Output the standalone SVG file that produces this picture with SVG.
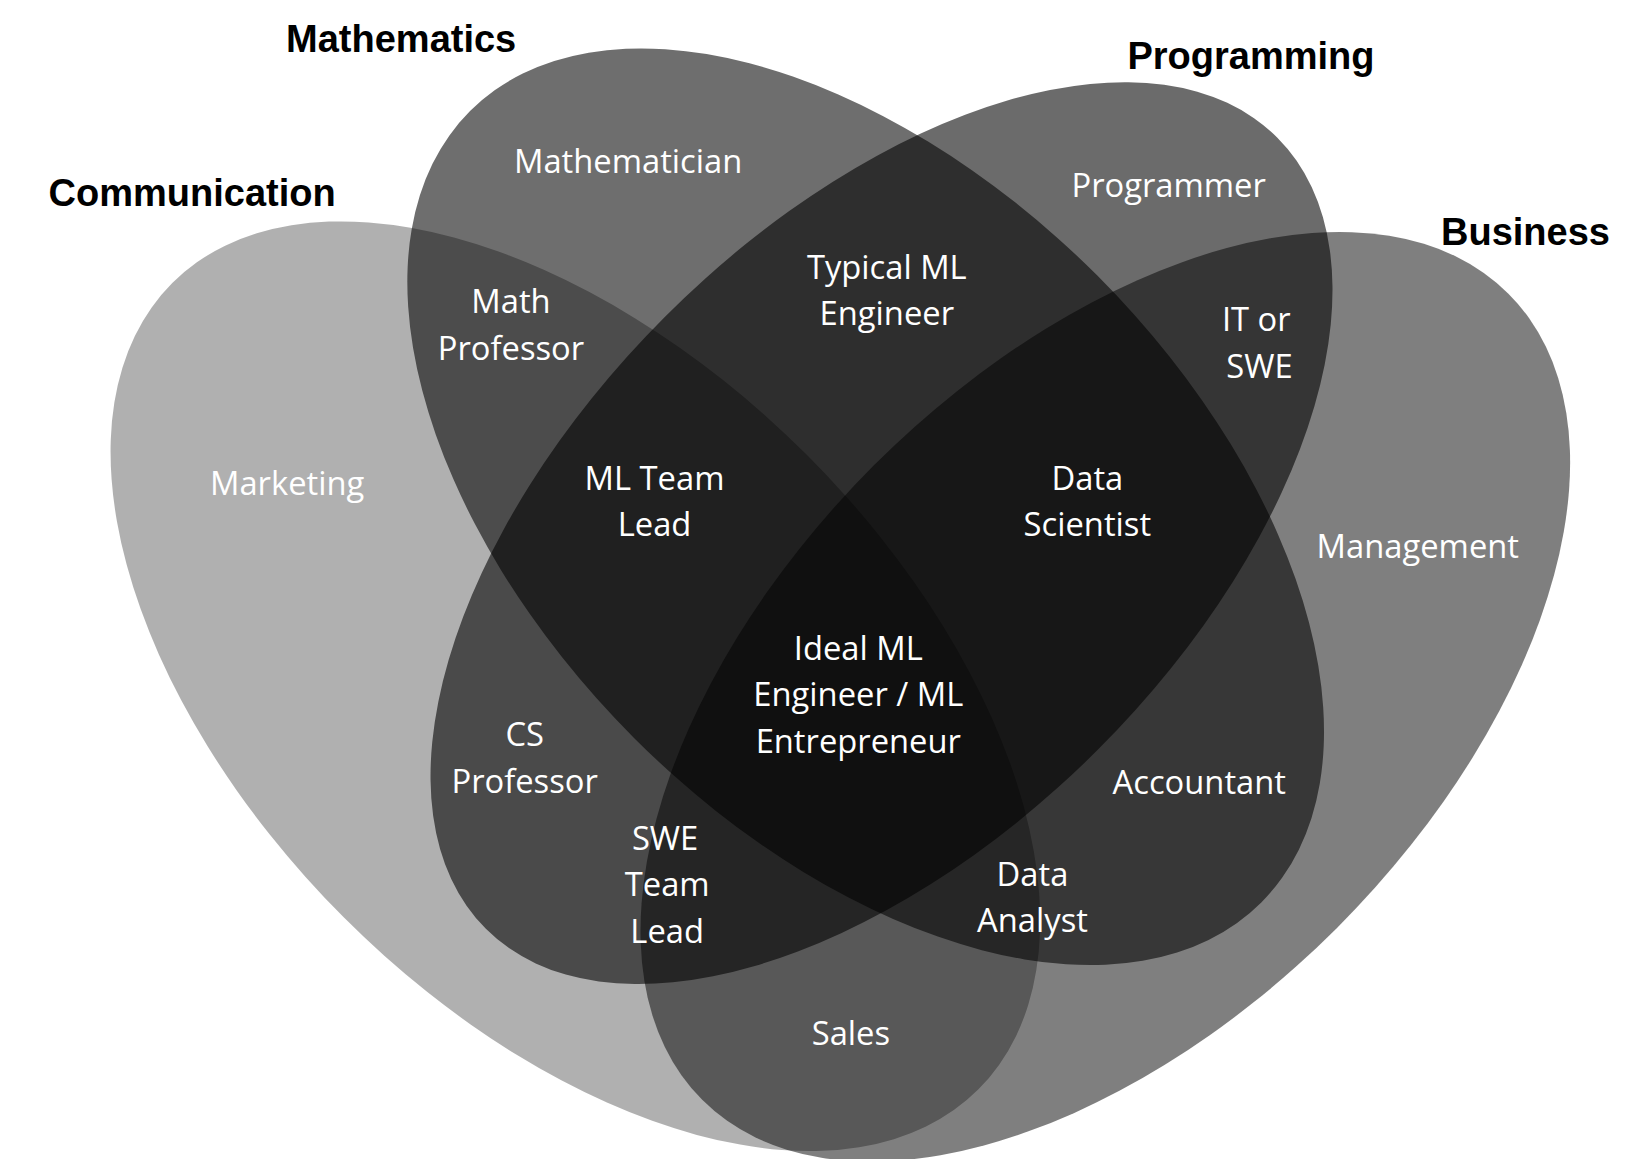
<svg xmlns="http://www.w3.org/2000/svg" width="1650" height="1159" viewBox="0 0 1650 1159">
<style>
.s{fill:#000}
.l{font-family:"Open Sans","Liberation Sans",sans-serif;font-size:31px;fill:#fff;text-anchor:middle;dominant-baseline:central}
.t{font-family:"Liberation Sans",sans-serif;font-size:36px;font-weight:bold;fill:#000;text-anchor:middle;dominant-baseline:central}
</style>
<rect width="1650" height="1159" fill="#fff"/>
<g transform="scale(1.0557)">
<g id="communication"><ellipse class="s" fill-opacity="0.31" cx="545" cy="650" rx="540" ry="310" transform="rotate(45 545 650)"/></g>
<g id="business"><ellipse class="s" fill-opacity="0.5" cx="1047" cy="660" rx="540" ry="310" transform="rotate(-45 1047 660)"/></g>
<g id="mathematics"><ellipse class="s" fill-opacity="0.57" cx="820" cy="480" rx="530" ry="310" transform="rotate(45 820 480)"/></g>
<g id="programming"><ellipse class="s" fill-opacity="0.58" cx="835" cy="505" rx="530" ry="290" transform="rotate(-45 835 505)"/></g>
<g id="connectors"></g>
<g id="titles">
<text class="t" x="380" y="37">Mathematics</text>
<text class="t" x="1185" y="53">Programming</text>
<text class="t" x="182" y="183">Communication</text>
<text class="t" x="1445" y="220">Business</text>
</g>
<g id="labels">
<text class="l" x="595" y="152">Mathematician</text>
<text class="l" x="1107" y="175">Programmer</text>
<text class="l" x="840" y="252">Typical ML</text><text class="l" x="840" y="296">Engineer</text>
<text class="l" x="484" y="285">Math</text><text class="l" x="484" y="329">Professor</text>
<text class="l" x="1190" y="302">IT or</text><text class="l" x="1193" y="346">SWE</text>
<text class="l" x="272" y="457">Marketing</text>
<text class="l" x="620" y="452">ML Team</text><text class="l" x="620" y="496">Lead</text>
<text class="l" x="1030" y="452">Data</text><text class="l" x="1030" y="496">Scientist</text>
<text class="l" x="1343" y="517">Management</text>
<text class="l" x="813" y="613">Ideal ML</text><text class="l" x="813" y="657">Engineer / ML</text><text class="l" x="813" y="701">Entrepreneur</text>
<text class="l" x="497" y="695">CS</text><text class="l" x="497" y="739">Professor</text>
<text class="l" x="1136" y="740">Accountant</text>
<text class="l" x="630" y="793">SWE</text><text class="l" x="632" y="837">Team</text><text class="l" x="632" y="881">Lead</text>
<text class="l" x="978" y="827">Data</text><text class="l" x="978" y="871">Analyst</text>
<text class="l" x="806" y="978">Sales</text>
</g>
</g>
</svg>
